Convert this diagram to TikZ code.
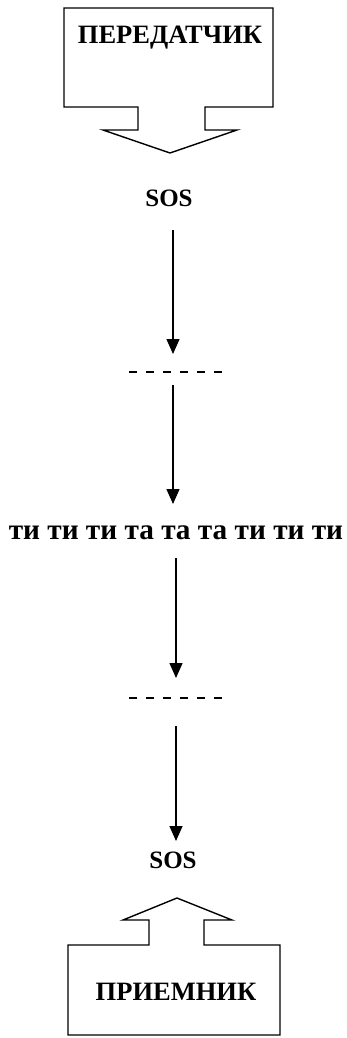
\documentclass[tikz,border=0pt]{standalone}
\usepackage{fontspec}
\setmainfont{Liberation Serif}
\usetikzlibrary{arrows.meta}
\begin{document}
\begin{tikzpicture}[x=1pt,y=-1pt,
  shapeline/.style={draw=black,line width=1.4pt,line join=miter},
  lbl/.style={font=\fontsize{26.5}{28}\selectfont\bfseries,inner sep=0pt},
  soslbl/.style={font=\fontsize{25}{27}\selectfont\bfseries,inner sep=0pt},
  sig/.style={font=\fontsize{29.3}{31}\selectfont\bfseries,inner sep=0pt},
  flow/.style={draw=black,line width=1.3pt,-{Triangle[width=13pt,length=15pt]}},
  dashline/.style={draw=black,line width=2.8pt,dash pattern=on 8pt off 9pt}]
\useasboundingbox (0,0) rectangle (347,1038);
% transmitter
\draw[shapeline] (64,8) -- (273,8) -- (273,107) -- (205,107) -- (205,130) -- (237,130)
  -- (170,153) -- (103,130) -- (138,130) -- (138,107) -- (64,107) -- cycle;
\node[lbl] (tx) at (170,38) {ПЕРЕДАТЧИК};
% receiver
\draw[shapeline] (68,1035) -- (68,945) -- (149,945) -- (149,920) -- (123,920) -- (177,898)
  -- (232,920) -- (204,920) -- (204,945) -- (280,945) -- (280,1035) -- cycle;
\node[lbl] (rx) at (176,992) {ПРИЕМНИК};
% texts
\node[soslbl] (sos1) at (169,198) {SOS};
\node[sig] (morse) at (176,533) {ти ти ти та та та ти ти ти};
\node[soslbl] (sos2) at (173,860) {SOS};
% dashed lines
\coordinate (d1a) at (129,372); \coordinate (d1b) at (222,372);
\coordinate (d2a) at (129,698); \coordinate (d2b) at (222,698);
\draw[dashline] (d1a) -- (d1b);
\draw[dashline] (d2a) -- (d2b);
% arrows
\coordinate (a1s) at (173,230); \coordinate (a1e) at (173,354);
\coordinate (a2s) at (173,385); \coordinate (a2e) at (173,504);
\coordinate (a3s) at (176,558); \coordinate (a3e) at (176,678);
\coordinate (a4s) at (176,726); \coordinate (a4e) at (176,841);
\draw[flow] (a1s) -- (a1e);
\draw[flow] (a2s) -- (a2e);
\draw[flow] (a3s) -- (a3e);
\draw[flow] (a4s) -- (a4e);
\end{tikzpicture}
\end{document}
